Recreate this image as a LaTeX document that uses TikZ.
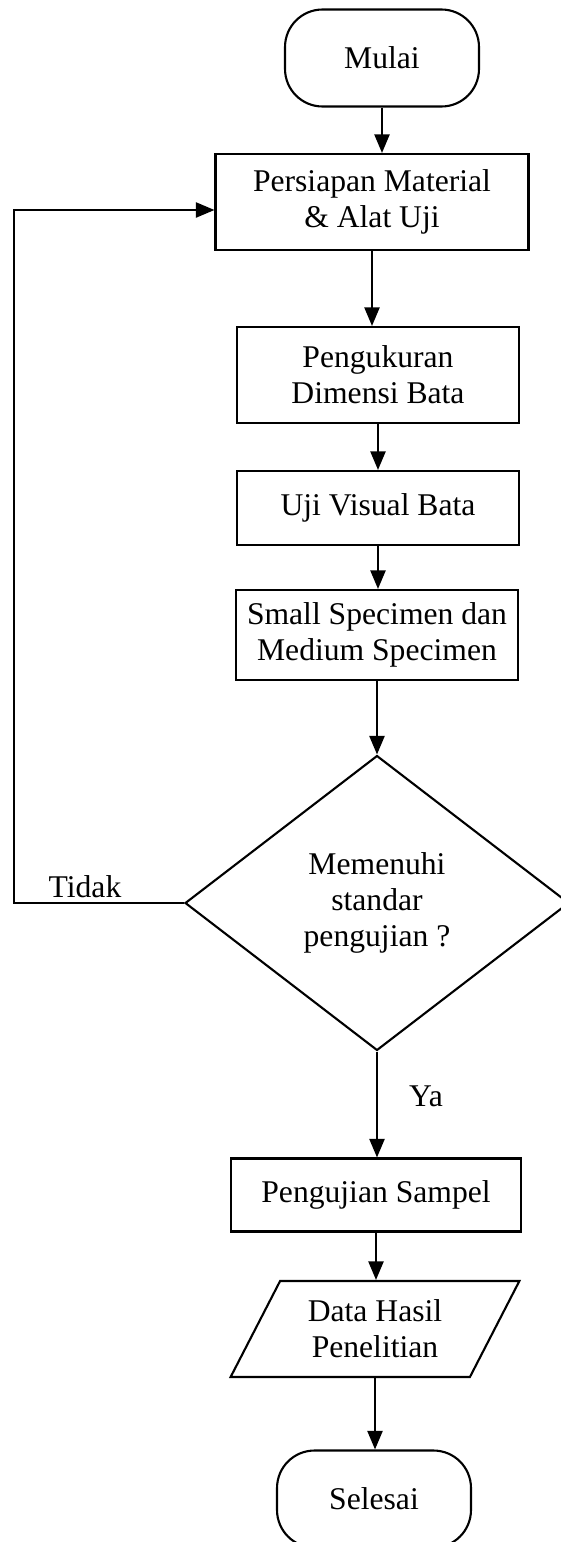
\documentclass[tikz,border=0pt]{standalone}
\usepackage{fontspec}
\setmainfont{Liberation Serif}
\usetikzlibrary{shapes.geometric,arrows.meta}

\begin{document}
\begin{tikzpicture}[x=0.02cm,y=-0.02cm,% one unit = one pixel of the scan
  every node/.style={font=\fontsize{18}{20.5}\selectfont,align=center,inner sep=0pt},
  garis/.style={line width=1.2pt},
  panah/.style={garis,-{Triangle[length=0.37cm,width=0.3cm]}},
  terminal/.style={draw,garis,rounded corners=0.75cm,minimum width=3.88cm,minimum height=1.94cm},
  proses/.style={draw,garis,rectangle,minimum width=5.64cm},
  keputusan/.style={draw,garis,diamond,minimum width=7.68cm,minimum height=5.9cm},
  masukan/.style={draw,garis,trapezium,trapezium left angle=59,trapezium right angle=121,
    trapezium stretches=true,minimum width=5.78cm,minimum height=1.92cm}]
  \clip (0,0) rectangle (561,1542);% the scan cuts the diamond and the last terminal
  % main column
  \node[terminal] (mulai) at (382,58) {Mulai};
  \node[proses,minimum width=6.26cm,minimum height=1.92cm] (persiapan) at (372,202) {Persiapan Material\\ \& Alat Uji};
  \node[proses,minimum height=1.92cm] (ukur) at (378,375) {Pengukuran\\ Dimensi Bata};
  \node[proses,minimum height=1.48cm] (visual) at (378,508) {Uji Visual Bata};
  \node[proses,minimum height=1.8cm] (spesimen) at (377,635) {Small Specimen dan\\ Medium Specimen};
  \node[keputusan] (cek) at (377,903) {Memenuhi\\ standar\\ pengujian ?};
  \node[proses,minimum width=5.8cm,minimum height=1.46cm] (uji) at (376,1195) {Pengujian Sampel};
  \node[masukan] (hasil) at (375,1329) {Data Hasil\\ Penelitian};
  \node[terminal] (selesai) at (374,1499) {Selesai};
  % branch labels
  \node[anchor=base] (tidak) at (85,897) {Tidak};
  \node[anchor=base] (ya) at (426,1106) {Ya};
  % connectors
  \foreach \a/\b in {mulai/persiapan,persiapan/ukur,ukur/visual,visual/spesimen,%
                     spesimen/cek,cek/uji,uji/hasil,hasil/selesai}{
    \draw[panah] (\a.south) -- (\a.south |- \b.north);
  }
  \coordinate (kiri) at (14,210);% back to the start
  \draw[panah] (cek.west) -| (kiri) -- (kiri -| persiapan.west);
\end{tikzpicture}
\end{document}
